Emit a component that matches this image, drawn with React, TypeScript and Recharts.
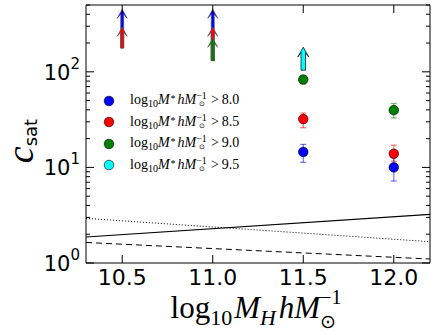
import React from "react";
import {
  ComposedChart,
  XAxis,
  YAxis,
  Line,
  Scatter,
  ErrorBar,
  ReferenceLine,
  Legend,
} from "recharts";

// ---------------------------------------------------------------------------
// Data
// ---------------------------------------------------------------------------

const xTicks = [10.5, 11.0, 11.5, 12.0];
const yMajorTicks = [1, 10, 100];
const yMinorTicks = [2, 3, 4, 5, 6, 7, 8, 9, 20, 30, 40, 50, 60, 70, 80, 90, 200, 300, 400, 500];

// measured points (x = log10 M_H)
const blueX = [11.5, 12.0];
const blueY = [14.5, 10.0];
const blueLo = [11.3, 7.2];
const blueHi = [17.4, 12.8];

const redX = [11.5, 12.0];
const redY = [32, 13.9];
const redLo = [26, 11.6];
const redHi = [37, 17.1];

const greenX = [11.5, 12.0];
const greenY = [83, 39.7];
const greenLo = [75, 32.9];
const greenHi = [91, 46.6];

// lower-limit arrows: base value -> tip value
const blueArrowX = [10.5, 11.0];
const blueArrowBase = [177, 131];
const blueArrowTip = [451, 451];

const redArrowX = [10.5, 11.0];
const redArrowBase = [177, 131];
const redArrowTip = [292, 292];

const greenArrowX = [11.0];
const greenArrowBase = [131];
const greenArrowTip = [224];

const cyanArrowX = [11.5];
const cyanArrowBase = [104];
const cyanArrowTip = [181];

// model curves
const curveX = [10.3, 12.2];
const solidY = [1.87, 3.23];
const dottedY = [2.93, 1.67];
const dashedY = [1.64, 1.1];

const legendLabels = ["8.0", "8.5", "9.0", "9.5"];
const legendColors = ["#0000ff", "#ff0000", "#008000", "#00ffff"];

// ---------------------------------------------------------------------------
// Layout
// ---------------------------------------------------------------------------

const W = 436;
const H = 335;
const PLOT = { left: 86, top: 5, right: 430, bottom: 263 };
const TICK_FONT = "DejaVu Sans";
const MATH_FONT = "Liberation Serif";

const pts = (xs: number[], ys: number[], lo: number[], hi: number[]) =>
  xs.map((x, i) => ({ x, y: ys[i], err: [ys[i] - lo[i], hi[i] - ys[i]] }));

const line = (xs: number[], ys: number[]) => xs.map((x, i) => ({ x, y: ys[i] }));

const dot = (color: string) => (p: any) =>
  <circle cx={p.cx} cy={p.cy} r={4.8} fill={color} stroke="#000" strokeWidth={0.6} />;

const arrowShape = (color: string, edge: string, shaft: number, head: number) => (p: any) => {
  const { x1, y1, y2 } = p;
  const s = shaft / 2;
  const hl = head * 0.9;
  const pts = [
    [x1, y2],
    [x1 + head / 2, y2 + hl],
    [x1 + s, y2 + hl * 0.55],
    [x1 + s, y1],
    [x1 - s, y1],
    [x1 - s, y2 + hl * 0.55],
    [x1 - head / 2, y2 + hl],
  ]
    .map((q) => q.join(","))
    .join(" ");
  return <polygon points={pts} fill={color} stroke={edge} strokeWidth={0.7} strokeLinejoin="miter" />;
};

const arrows = (
  xs: number[],
  base: number[],
  tip: number[],
  color: string,
  edge: string,
  shaft: number,
  head: number,
  key: string
) =>
  xs.map((x, i) => (
    <ReferenceLine
      key={`${key}-${i}`}
      segment={[
        { x, y: base[i] },
        { x, y: tip[i] },
      ]}
      ifOverflow="visible"
      shape={arrowShape(color, edge, shaft, head)}
    />
  ));

// ---------------------------------------------------------------------------
// Ticks & labels
// ---------------------------------------------------------------------------

const BottomTick = (p: any) => (
  <g>
    <line x1={p.x} x2={p.x} y1={PLOT.bottom} y2={PLOT.bottom - 8} stroke="#000" />
    <text x={p.x} y={285} textAnchor="middle" fontSize={22} fontFamily={TICK_FONT} fill="#000">
      {Number(p.payload.value).toFixed(1)}
    </text>
  </g>
);

const TopTick = (p: any) => (
  <line x1={p.x} x2={p.x} y1={PLOT.top} y2={PLOT.top + 8} stroke="#000" />
);

const isMajor = (v: number) => yMajorTicks.includes(v);

const LeftTick = (p: any) => {
  const v = Number(p.payload.value);
  const major = isMajor(v);
  return (
    <g>
      <line x1={PLOT.left} x2={PLOT.left + (major ? 8 : 4)} y1={p.y} y2={p.y} stroke="#000" />
      {major && (
        <text x={80} y={p.y + 8} textAnchor="end" fontSize={21} fontFamily={TICK_FONT} fill="#000">
          <tspan>10</tspan>
          <tspan fontSize={15} dy={-11}>
            {Math.round(Math.log10(v))}
          </tspan>
        </text>
      )}
    </g>
  );
};

const RightTick = (p: any) => {
  const v = Number(p.payload.value);
  return (
    <line x1={PLOT.right} x2={PLOT.right - (isMajor(v) ? 8 : 4)} y1={p.y} y2={p.y} stroke="#000" />
  );
};

const XLabel = () => (
  <text x={256} y={318} textAnchor="middle" fontFamily={MATH_FONT} fontSize={31} fill="#000">
    <tspan>log</tspan>
    <tspan fontSize={22} dy={7}>10</tspan>
    <tspan fontStyle="italic" dx={2} dy={-7}>M</tspan>
    <tspan fontSize={22} fontStyle="italic" dy={7}>H</tspan>
    <tspan fontStyle="italic" dx={3} dy={-7}>hM</tspan>
    <tspan fontSize={19} dy={10}>⊙</tspan>
    <tspan fontSize={20} dx={-16} dy={-24}>−1</tspan>
  </text>
);

const YLabel = () => (
  <text transform="rotate(-90)" x={-141} y={33} textAnchor="middle" fill="#000">
    <tspan fontStyle="italic" fontSize={38} fontFamily={MATH_FONT}>c</tspan>
    <tspan fontSize={18} dy={4} fontFamily={TICK_FONT}>sat</tspan>
  </text>
);

const LegendBox = () => (
  <div style={{ fontFamily: MATH_FONT, fontSize: 14, color: "#000" }}>
    {legendLabels.map((lab, i) => (
      <div key={lab} style={{ height: 21.5, display: "flex", alignItems: "center" }}>
        <svg width={12} height={12} style={{ marginLeft: 3, marginRight: 15 }}>
          <circle cx={6} cy={6} r={4.8} fill={legendColors[i]} stroke="#000" strokeWidth={0.6} />
        </svg>
        <span style={{ whiteSpace: "nowrap", lineHeight: 1 }}>
          log<span style={{ fontSize: 10, verticalAlign: -3 }}>10</span>
          <i>M</i>
          <span style={{ fontSize: 10, verticalAlign: 2, marginLeft: 1, marginRight: 2 }}>*</span>
          <i>hM</i>
          <span
            style={{
              display: "inline-flex",
              flexDirection: "column",
              alignItems: "center",
              verticalAlign: 5,
              fontSize: 10,
              lineHeight: "8px",
            }}
          >
            <span>−1</span>
            <span style={{ fontSize: 7 }}>⊙</span>
          </span>
          <span style={{ marginLeft: 4 }}>&gt;</span>
          <span style={{ marginLeft: 3 }}>{lab}</span>
        </span>
      </div>
    ))}
  </div>
);

// ---------------------------------------------------------------------------
// Chart
// ---------------------------------------------------------------------------

export default function App() {
  const axisLine = { stroke: "#000", strokeWidth: 1 };
  const errStyle = { strokeWidth: 1.2, strokeOpacity: 0.55 };
  return (
    <div style={{ position: "absolute", left: 0, top: 0, width: W, height: H, background: "#fff" }}>
      <ComposedChart
        width={W}
        height={H}
        margin={{ top: PLOT.top - 1, right: W - PLOT.right - 1, bottom: 0, left: 0 }}
      >
        <XAxis
          type="number"
          dataKey="x"
          domain={[10.3, 12.2]}
          ticks={xTicks}
          interval={0}
          allowDataOverflow
          height={H - PLOT.bottom}
          axisLine={axisLine}
          tickLine={false}
          tick={BottomTick}
          label={<XLabel />}
        />
        <XAxis
          xAxisId="top"
          orientation="top"
          type="number"
          dataKey="x"
          domain={[10.3, 12.2]}
          ticks={xTicks}
          interval={0}
          allowDataOverflow
          height={1}
          axisLine={axisLine}
          tickLine={false}
          tick={TopTick}
        />
        <YAxis
          type="number"
          scale="log"
          domain={[1, 500]}
          ticks={[...yMajorTicks, ...yMinorTicks]}
          interval={0}
          allowDataOverflow
          width={PLOT.left}
          axisLine={axisLine}
          tickLine={false}
          tick={LeftTick}
          label={<YLabel />}
        />
        <YAxis
          yAxisId="right"
          orientation="right"
          type="number"
          scale="log"
          domain={[1, 500]}
          ticks={[...yMajorTicks, ...yMinorTicks]}
          interval={0}
          allowDataOverflow
          width={1}
          axisLine={axisLine}
          tickLine={false}
          tick={RightTick}
        />

        <Line data={line(curveX, solidY)} dataKey="y" stroke="#000" strokeWidth={1.2} dot={false} isAnimationActive={false} />
        {/* dotted curve is bound to the top/right axes (same domains) so those frame axes get drawn */}
        <Line
          data={line(curveX, dottedY)}
          xAxisId="top"
          yAxisId="right"
          dataKey="y"
          stroke="#000"
          strokeWidth={1}
          strokeDasharray="1 2"
          dot={false}
          isAnimationActive={false}
        />
        <Line data={line(curveX, dashedY)} dataKey="y" stroke="#000" strokeWidth={1} strokeDasharray="6 4" dot={false} isAnimationActive={false} />

        {arrows(blueArrowX, blueArrowBase, blueArrowTip, "#0000ff", "#555", 3, 10, "b")}
        {arrows(redArrowX, redArrowBase, redArrowTip, "#ff0000", "#555", 3, 10, "r")}
        {arrows(greenArrowX, greenArrowBase, greenArrowTip, "#008000", "#555", 3, 10, "g")}
        {arrows(cyanArrowX, cyanArrowBase, cyanArrowTip, "#00ffff", "#000", 4.5, 11, "c")}

        <Scatter data={pts(greenX, greenY, greenLo, greenHi)} dataKey="y" shape={dot("#008000")} isAnimationActive={false}>
          <ErrorBar dataKey="err" direction="y" width={3} stroke="#008000" {...errStyle} />
        </Scatter>
        <Scatter data={pts(redX, redY, redLo, redHi)} dataKey="y" shape={dot("#ff0000")} isAnimationActive={false}>
          <ErrorBar dataKey="err" direction="y" width={3} stroke="#ff0000" {...errStyle} />
        </Scatter>
        <Scatter data={pts(blueX, blueY, blueLo, blueHi)} dataKey="y" shape={dot("#0000ff")} isAnimationActive={false}>
          <ErrorBar dataKey="err" direction="y" width={3} stroke="#0000ff" {...errStyle} />
        </Scatter>

        <Legend
          layout="horizontal"
          verticalAlign="middle"
          align="center"
          wrapperStyle={{ left: 100, top: 90, width: 170, height: 90 }}
          content={() => <LegendBox />}
        />
      </ComposedChart>
    </div>
  );
}
